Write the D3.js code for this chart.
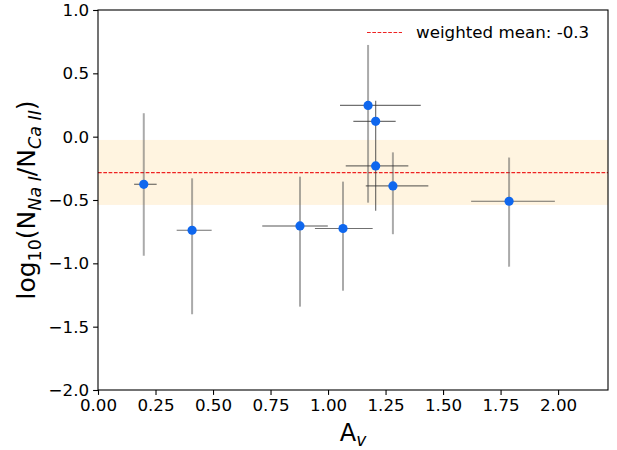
<!DOCTYPE html>
<html><head><meta charset="utf-8">
<script src="https://cdn.jsdelivr.net/npm/d3@7"></script>
<style>
html,body{margin:0;padding:0;background:#fff;}
svg text{font-family:"DejaVu Sans",sans-serif;fill:#000;}
</style></head>
<body><svg id="c" width="617" height="450"></svg>
<script>
// ---- data ----
const av      = [0.199, 0.409, 0.878, 1.065, 1.174, 1.207, 1.207, 1.282, 1.787];
const avLow   = [0.157, 0.342, 0.714, 0.943, 1.052, 1.110, 1.077, 1.164, 1.622];
const avHigh  = [0.255, 0.494, 0.999, 1.194, 1.403, 1.294, 1.349, 1.436, 1.986];
const ratio     = [-0.376, -0.739, -0.705, -0.725, 0.247, 0.121, -0.231, -0.389, -0.510];
const ratioLow  = [-0.940, -1.402, -1.342, -1.216, -0.521, -0.584, null, -0.770, -1.026];
const ratioHigh = [0.185, -0.329, -0.316, -0.355, 0.724, 0.284, null, -0.124, -0.165];
const weightedMean = -0.284;
const meanBand = [-0.539, -0.026];
const xTicks = [0, 0.25, 0.5, 0.75, 1.0, 1.25, 1.5, 1.75, 2.0];
const yTicks = [-2.0, -1.5, -1.0, -0.5, 0.0, 0.5, 1.0];
const legendLabel = "weighted mean: -0.3";

// ---- styles ----
const lightBar = {stroke:"#555", opacity:0.5, width:2};
const darkBar  = {stroke:"#333", opacity:0.7, width:1.2};
const xBarStyle = i => i === 2 ? lightBar : darkBar;
const yBarStyle = i => i === 5 ? darkBar : lightBar;

const svg = d3.select("#c");
const L = 98, R = 608, T = 10, B = 390;
const x = d3.scaleLinear().domain([0, 2.217]).range([L, R]);
const y = d3.scaleLinear().domain([-2, 1]).range([B, T]);

// band
svg.append("rect").attr("x", L).attr("width", R - L)
  .attr("y", y(meanBand[1])).attr("height", y(meanBand[0]) - y(meanBand[1]))
  .attr("fill", "orange").attr("fill-opacity", 0.12);

// mean line
svg.append("line").attr("x1", L).attr("x2", R)
  .attr("y1", y(weightedMean)).attr("y2", y(weightedMean))
  .attr("stroke", "#ee2222").attr("stroke-width", 1.2).attr("stroke-dasharray", "3.7,1.6");

const idx = d3.range(av.length);
// y error bars
svg.append("g").selectAll("line").data(idx.filter(i => ratioLow[i] !== null)).join("line")
  .attr("x1", i => x(av[i])).attr("x2", i => x(av[i]))
  .attr("y1", i => y(ratioHigh[i])).attr("y2", i => y(ratioLow[i]))
  .attr("stroke", i => yBarStyle(i).stroke).attr("stroke-opacity", i => yBarStyle(i).opacity)
  .attr("stroke-width", i => yBarStyle(i).width);
// x error bars
svg.append("g").selectAll("line").data(idx).join("line")
  .attr("x1", i => x(avLow[i])).attr("x2", i => x(avHigh[i]))
  .attr("y1", i => y(ratio[i])).attr("y2", i => y(ratio[i]))
  .attr("stroke", i => xBarStyle(i).stroke).attr("stroke-opacity", i => xBarStyle(i).opacity)
  .attr("stroke-width", i => xBarStyle(i).width);
// points
svg.append("g").selectAll("circle").data(idx).join("circle")
  .attr("cx", i => x(av[i])).attr("cy", i => y(ratio[i])).attr("r", 4.6)
  .attr("fill", "#0f67ee");

// axes
const fmtMinus = s => s.replace("-", "\u2212");
const xAxis = svg.append("g").attr("transform", `translate(0,${B})`)
  .call(d3.axisBottom(x).tickValues(xTicks).tickFormat(d => fmtMinus(d3.format(".2f")(d))).tickSizeOuter(0).tickSize(4.9).tickPadding(4.5));
const yAxis = svg.append("g").attr("transform", `translate(${L},0)`)
  .call(d3.axisLeft(y).tickValues(yTicks).tickFormat(d => fmtMinus(d3.format(".1f")(d))).tickSizeOuter(0).tickSize(4.9).tickPadding(4));
[xAxis, yAxis].forEach(a => {
  a.select(".domain").remove();
  a.selectAll("line").attr("stroke", "#000").attr("stroke-width", 1.1);
  a.selectAll("text").attr("font-size", 16.7).attr("font-family", "DejaVu Sans").attr("fill", "#000");
});
// frame
svg.append("rect").attr("x", L).attr("y", T).attr("width", R - L).attr("height", B - T)
  .attr("fill", "none").attr("stroke", "#000").attr("stroke-width", 1.1);

// x label
const xl = svg.append("text").attr("x", (L + R) / 2).attr("y", 441).attr("text-anchor", "middle").attr("font-size", 24);
xl.append("tspan").text("A");
xl.append("tspan").attr("font-size", 17).attr("font-style", "italic").attr("dy", 5).text("v");

// y label
const yl = svg.append("text").attr("transform", `translate(35,${(T + B) / 2}) rotate(-90)`)
  .attr("text-anchor", "middle").attr("font-size", 25);
yl.append("tspan").text("log");
yl.append("tspan").attr("font-size", 17.5).attr("dy", 6).text("10");
yl.append("tspan").attr("dy", -6).text("(N");
yl.append("tspan").attr("font-size", 17.5).attr("font-style", "italic").attr("dy", 6).text("Na I");
yl.append("tspan").attr("dy", -6).text("/N");
yl.append("tspan").attr("font-size", 17.5).attr("font-style", "italic").attr("dy", 6).text("Ca II");
yl.append("tspan").attr("dy", -6).text(")");

// legend
svg.append("line").attr("x1", 367).attr("x2", 402).attr("y1", 32.5).attr("y2", 32.5)
  .attr("stroke", "#ee2222").attr("stroke-width", 1.2).attr("stroke-dasharray", "3.7,1.6");
svg.append("text").attr("x", 416).attr("y", 38).attr("font-size", 16.7).text(legendLabel);
</script></body></html>
